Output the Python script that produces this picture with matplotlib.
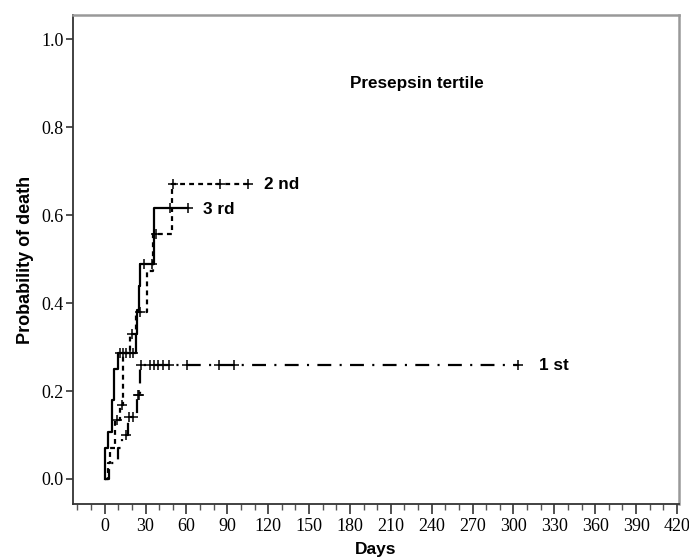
import numpy as np
import matplotlib
matplotlib.use("Agg")
import matplotlib.pyplot as plt
from matplotlib.ticker import MultipleLocator, FormatStrFormatter

plt.rcParams["lines.scale_dashes"] = False

# Kaplan-Meier steps (days, probability of death)
first_t = [0, 3, 10, 13, 17, 24, 26, 303]
first_p = [0, 0.036, 0.071, 0.10, 0.142, 0.19, 0.26, 0.26]
first_cens_t = [15.4, 18, 21, 24.7, 25.3, 27, 33.5, 36.5, 39, 43, 47, 60.6, 84, 95, 303]
first_cens_p = [0.10, 0.142, 0.142, 0.19, 0.19] + [0.26] * 10

second_t = [0, 2.5, 4, 7.6, 11.3, 13.6, 18.6, 23, 31.3, 35.5, 49.6, 105]
second_p = [0, 0.036, 0.071, 0.134, 0.168, 0.286, 0.33, 0.38, 0.472, 0.557, 0.67, 0.67]
second_cens_t = [9, 12.4, 20, 26, 37.4, 50.5, 85, 105]
second_cens_p = [0.134, 0.168, 0.33, 0.38, 0.557, 0.67, 0.67, 0.67]

third_t = [0, 0.5, 2.7, 5.6, 7, 10, 23, 24, 25, 26, 36.5, 61.4]
third_p = [0, 0.071, 0.107, 0.179, 0.25, 0.286, 0.33, 0.385, 0.438, 0.49, 0.617, 0.617]
third_cens_t = [11, 13.5, 16, 18.5, 21, 28.6, 34.7, 48, 61.4]
third_cens_p = [0.286] * 5 + [0.49, 0.49, 0.617, 0.617]

fig = plt.figure(figsize=(6.89, 5.6), dpi=100)
ax = fig.add_axes([0.106, 0.1, 0.8795, 0.873])

ax.step(first_t, first_p, where="post", color="black", lw=1.6, dashes=(10, 6, 1.5, 6))
ax.step(second_t, second_p, where="post", color="black", lw=1.6, dashes=(3.5, 3))
ax.step(third_t, third_p, where="post", color="black", lw=1.6)

mk = dict(ls="none", marker="+", ms=7, mew=1.1, color="black")
ax.plot(first_cens_t, first_cens_p, **mk)
ax.plot(second_cens_t, second_cens_p, **mk)
ax.plot(third_cens_t, third_cens_p, **mk)

txt = dict(family="Liberation Sans", fontsize=12.3, fontweight="bold", va="center")
ax.text(117, 0.67, "2 nd", **txt)
ax.text(72, 0.613, "3 rd", **txt)
ax.text(319, 0.258, "1 st", **txt)
ax.text(180, 0.899, "Presepsin tertile", **txt)

ax.set_xlim(-23.2, 421.5)
ax.set_ylim(-0.057, 1.055)
ax.xaxis.set_major_locator(MultipleLocator(30))
ax.xaxis.set_minor_locator(MultipleLocator(10))
ax.set_yticks([0, 0.2, 0.4, 0.6, 0.8, 1.0])
ax.yaxis.set_major_formatter(FormatStrFormatter("%.1f"))
ax.tick_params(axis="x", which="major", length=7, width=1.2, direction="out",
               colors="#333333", labelcolor="black", pad=3)
ax.tick_params(axis="x", which="minor", length=4, width=1, direction="out", colors="#555555")
ax.tick_params(axis="y", which="major", length=5, width=1.2, direction="out",
               colors="#333333", labelcolor="black", pad=2)
for lab in ax.get_xticklabels() + ax.get_yticklabels():
    lab.set_family("Liberation Serif")
    lab.set_fontsize(13)

for s in ["left", "bottom"]:
    ax.spines[s].set_color("#333333")
    ax.spines[s].set_linewidth(1.3)
for s in ["top", "right"]:
    ax.spines[s].set_color("#999999")
    ax.spines[s].set_linewidth(1.8)

ax.set_xlabel("Days", family="Liberation Sans", fontsize=12.5, fontweight="bold", labelpad=5)
ax.set_ylabel("Probability of death", family="Liberation Sans", fontsize=13,
              fontweight="bold", labelpad=5)

fig.savefig("out.png", dpi=100)
